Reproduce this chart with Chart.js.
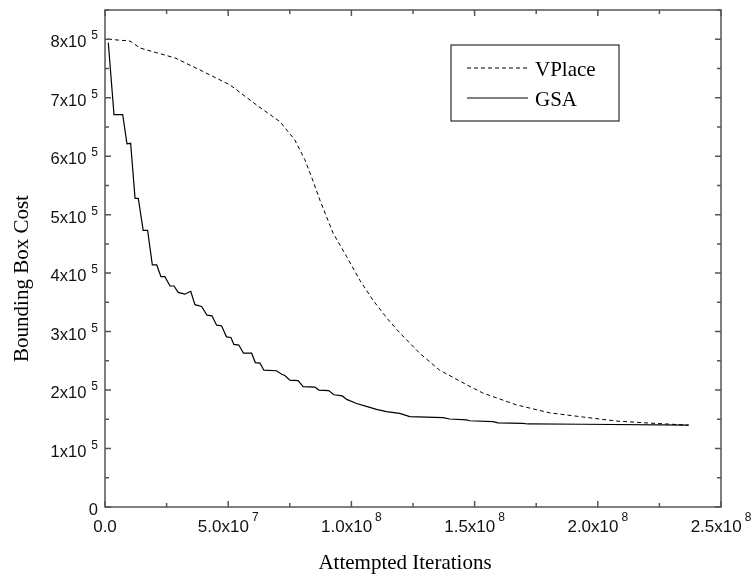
<!DOCTYPE html>
<html>
<head>
<meta charset="utf-8">
<script src="https://cdn.jsdelivr.net/npm/chart.js@4"></script>
<style>
  html, body { margin: 0; padding: 0; background: #fff; }
  #wrap { width: 754px; height: 576px; }
</style>
</head>
<body>
<div id="wrap"><canvas id="myChart" width="754" height="576"></canvas></div>
<script>
// VPlace (dashed)
var vplaceIter = [1.2e6, 1.01e7, 1.42e7, 2.84e7, 3.85e7, 5.07e7, 6.20e7, 7.10e7, 7.70e7, 8.11e7, 8.43e7, 8.72e7, 9.25e7, 9.81e7, 1.034e8, 1.087e8, 1.144e8, 1.196e8, 1.277e8, 1.358e8, 1.468e8, 1.533e8, 1.671e8, 1.805e8, 1.938e8, 2.076e8, 2.210e8, 2.368e8];
var vplaceCost = [800000, 797000, 785000, 768000, 747500, 722000, 686000, 659000, 628000, 594000, 559000, 525000, 469000, 428000, 388000, 354000, 323000, 298000, 263000, 234000, 209000, 195000, 174500, 161000, 154000, 147000, 143500, 140000];

// GSA (solid, stepped)
var gsaIter = [1.34e6, 3.65e6, 7.18e6, 8.92e6, 1.04e7, 1.22e7, 1.35e7, 1.55e7, 1.73e7, 1.92e7, 2.10e7, 2.27e7, 2.43e7, 2.64e7, 2.80e7, 2.97e7, 3.24e7, 3.48e7, 3.65e7, 3.92e7, 4.14e7, 4.34e7, 4.53e7, 4.73e7, 4.93e7, 5.11e7, 5.23e7, 5.43e7, 5.62e7, 5.95e7, 6.10e7, 6.29e7, 6.45e7, 6.96e7, 7.17e7, 7.30e7, 7.50e7, 7.84e7, 8.04e7, 8.52e7, 8.68e7, 9.08e7, 9.29e7, 9.63e7, 9.81e7, 1.021e8, 1.054e8, 1.102e8, 1.142e8, 1.196e8, 1.237e8, 1.372e8, 1.399e8, 1.467e8, 1.480e8, 1.575e8, 1.595e8, 1.696e8, 1.717e8, 1.940e8, 2.369e8];
var gsaCost = [794000, 671000, 671000, 621000, 622000, 528000, 528000, 473000, 473000, 414000, 414000, 394000, 394000, 378000, 378000, 367000, 364000, 369000, 346000, 343000, 328000, 327000, 311000, 310000, 291000, 290000, 278000, 277000, 263000, 263000, 247000, 246000, 234000, 233000, 227000, 225000, 217000, 216000, 206000, 205000, 200000, 199000, 192000, 190000, 184000, 177000, 173000, 167000, 163000, 160000, 154500, 153000, 150500, 149000, 147500, 146000, 144000, 143000, 142000, 141500, 140000];

// tick labels (mantissa part + exponent)
var xTickValues = [0, 5e7, 1e8, 1.5e8, 2e8, 2.5e8];
var xTickBase = ['0.0', '5.0x10', '1.0x10', '1.5x10', '2.0x10', '2.5x10'];
var xTickExp = ['', '7', '8', '8', '8', '8'];
var yTickValues = [0, 1e5, 2e5, 3e5, 4e5, 5e5, 6e5, 7e5, 8e5];
var yTickBase = ['0', '1x10', '2x10', '3x10', '4x10', '5x10', '6x10', '7x10', '8x10'];
var yTickExp = ['', '5', '5', '5', '5', '5', '5', '5', '5'];

var xTitle = 'Attempted Iterations';
var yTitle = 'Bounding Box Cost';

var xMax = 2.5e8, xMinor = 2.5e7;
var yMax = 8.5e5, yMinor = 0.5e5;
var axisColor = '#555';
var sansFam = '"Liberation Sans", Arial, sans-serif';
var serif = '"Liberation Serif", "Times New Roman", serif';

function toPoints(xs, ys) {
    return xs.map(function (x, i) { return { x: x, y: ys[i] }; });
}

// label with a raised exponent
function supLabel(ctx, base, exp, x, y, align, size, gap, rise) {
    var baseFont = size + 'px ' + sansFam;
    var supFont = Math.round(size * 0.7) + 'px ' + sansFam;
    ctx.font = baseFont;
    var bw = ctx.measureText(base).width;
    ctx.font = supFont;
    var sw = exp ? ctx.measureText(exp).width : 0;
    var total = bw + (exp ? gap + sw : 0);
    var start = align === 'center' ? x - total / 2 : x - total;
    ctx.font = baseFont;
    ctx.fillText(base, start, y);
    if (exp) {
        ctx.font = supFont;
        ctx.fillText(exp, start + bw + gap, y - rise);
    }
}

var framePlugin = {
    id: 'frame',
    afterDatasetsDraw: function (chart) {
        var ctx = chart.ctx, a = chart.chartArea;
        var xs = chart.scales.x, ys = chart.scales.y;
        ctx.save();
        // box
        ctx.strokeStyle = axisColor;
        ctx.lineWidth = 1.5;
        ctx.strokeRect(a.left, a.top, a.right - a.left, a.bottom - a.top);
        // inward ticks on all four sides
        ctx.beginPath();
        var i, v, p, len;
        for (i = 0; i * xMinor <= xMax + 1; i++) {
            v = i * xMinor;
            p = xs.getPixelForValue(v);
            len = i % 2 === 0 ? 6 : 4;
            ctx.moveTo(p, a.bottom); ctx.lineTo(p, a.bottom - len);
            ctx.moveTo(p, a.top); ctx.lineTo(p, a.top + len);
        }
        for (i = 0; i * yMinor <= yMax + 1; i++) {
            v = i * yMinor;
            p = ys.getPixelForValue(v);
            len = i % 2 === 0 ? 6 : 4;
            ctx.moveTo(a.left, p); ctx.lineTo(a.left + len, p);
            ctx.moveTo(a.right, p); ctx.lineTo(a.right - len, p);
        }
        ctx.stroke();

        // tick labels
        ctx.fillStyle = '#111';
        ctx.textAlign = 'left';
        ctx.textBaseline = 'alphabetic';
        xTickValues.forEach(function (val, k) {
            supLabel(ctx, xTickBase[k], xTickExp[k], xs.getPixelForValue(val), a.bottom + 25, 'center', 17, 3, 11);
        });
        yTickValues.forEach(function (val, k) {
            supLabel(ctx, yTickBase[k], yTickExp[k], a.left - 7, ys.getPixelForValue(val) + 8, 'right', 16.5, 5, 8);
        });

        // axis titles
        ctx.fillStyle = '#000';
        ctx.font = '21px ' + serif;
        ctx.textAlign = 'center';
        ctx.textBaseline = 'middle';
        ctx.fillText(xTitle, (a.left + a.right) / 2 - 8, a.bottom + 56);
        ctx.save();
        ctx.translate(22, (a.top + a.bottom) / 2 + 20);
        ctx.rotate(-Math.PI / 2);
        ctx.fillText(yTitle, 0, 0);
        ctx.restore();

        // legend box
        var lx = a.left + 346, ly = a.top + 35;
        ctx.strokeStyle = '#000';
        ctx.lineWidth = 1;
        ctx.strokeRect(lx, ly, 168, 76);
        ctx.textAlign = 'left';
        ctx.textBaseline = 'alphabetic';
        chart.data.datasets.forEach(function (ds, k) {
            var yy = ly + 23 + k * 30;
            ctx.beginPath();
            ctx.setLineDash(ds.borderDash || []);
            ctx.lineWidth = ds.borderWidth;
            ctx.moveTo(lx + 16, yy);
            ctx.lineTo(lx + 77, yy);
            ctx.stroke();
            ctx.setLineDash([]);
            ctx.fillStyle = '#000';
            ctx.font = '21px ' + serif;
            ctx.fillText(ds.label, lx + 84, yy + 8);
        });
        ctx.restore();
    }
};

var chart = document.querySelector('#myChart');
var myChart = new Chart(chart, {
    type: 'line',
    data: {
        datasets: [{
            label: 'VPlace',
            data: toPoints(vplaceIter, vplaceCost),
            borderColor: '#000',
            borderWidth: 1,
            borderDash: [4, 3],
            pointRadius: 0,
            tension: 0,
            fill: false
        }, {
            label: 'GSA',
            data: toPoints(gsaIter, gsaCost),
            borderColor: '#000',
            borderWidth: 1.2,
            pointRadius: 0,
            tension: 0,
            fill: false
        }]
    },
    options: {
        responsive: false,
        animation: false,
        layout: { padding: { top: 10, right: 33, left: 0, bottom: 0 } },
        scales: {
            x: {
                type: 'linear',
                min: 0,
                max: xMax,
                ticks: { display: false, stepSize: 5e7 },
                grid: { display: false },
                border: { display: false },
                afterFit: function (s) { s.height = 69; }
            },
            y: {
                min: 0,
                max: yMax,
                ticks: { display: false, stepSize: 1e5 },
                grid: { display: false },
                border: { display: false },
                afterFit: function (s) { s.width = 105; }
            }
        },
        plugins: {
            legend: { display: false },
            tooltip: { enabled: false }
        }
    },
    plugins: [framePlugin]
});
</script>
</body>
</html>
